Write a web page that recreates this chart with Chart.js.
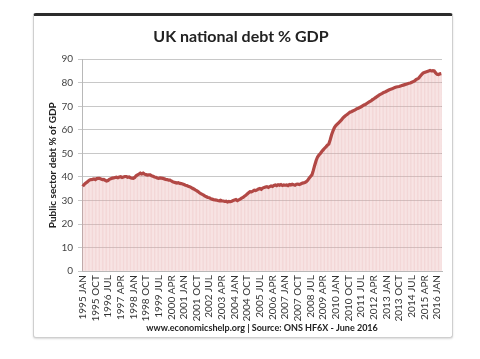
<!DOCTYPE html>
<html><head><meta charset="utf-8">
<script src="https://cdn.jsdelivr.net/npm/chart.js@4.4.1/dist/chart.umd.min.js"></script>
<style>
html,body{margin:0;padding:0;background:#fff;width:480px;height:359px;overflow:hidden;}
#card{position:absolute;left:33px;top:13px;width:418px;height:321px;border:1px solid #cfcfcf;border-top:3px solid #2b2b2b;border-radius:3px;box-shadow:0 1px 2px rgba(0,0,0,0.15);background:#fff;}
#wrap{position:absolute;left:0;top:0;width:480px;height:359px;}
</style></head><body>
<div id="card"></div>
<div id="wrap"><canvas id="c" width="480" height="359"></canvas></div>
<script>
const years = [1995,1996,1997,1998,1999,2000,2001,2002,2003,2004,2005,2006,2007,2008,2009,2010,2011,2012,2013,2014,2015,2016];
const monthNames = ['JAN','FEB','MAR','APR','MAY','JUN','JUL','AUG','SEP','OCT','NOV','DEC'];
const debt1995_2001 = [
  36.0,36.8,37.3,37.8,38.3,38.7,38.9,39.0,39.2,38.9,39.3,39.4,
  39.4,39.1,38.9,39.0,38.6,38.3,38.5,39.0,39.3,39.5,39.6,39.8,
  39.9,39.7,40.0,40.1,39.8,40.0,40.2,40.2,39.9,40.0,39.7,39.5,
  39.4,39.8,40.5,40.9,41.2,41.6,41.3,41.6,41.2,41.0,40.8,40.9,
  40.9,40.5,40.3,40.0,39.9,39.6,39.4,39.6,39.5,39.4,39.2,39.0,
  38.9,38.7,38.7,38.3,38.0,37.8,37.6,37.4,37.6,37.3,37.2,37.0,
  36.8,36.5,36.4,36.1,35.9,35.6,35.2,34.9,34.5,34.2,33.8,33.3
];
const debt2002_2008 = [
  32.9,32.6,32.3,31.9,31.6,31.3,31.2,30.8,30.6,30.4,30.3,30.2,
  30.0,29.9,30.1,29.8,29.8,29.6,29.7,29.4,29.6,29.5,29.7,30.0,
  30.2,30.4,30.0,30.3,30.6,31.0,31.3,31.8,32.2,32.8,33.3,33.8,
  33.7,34.0,34.4,34.2,34.5,34.9,35.1,34.8,35.3,35.5,35.7,35.9,
  35.6,35.9,36.2,36.0,36.4,36.6,36.3,36.7,36.5,36.8,36.4,36.6,
  36.5,36.6,36.3,36.8,36.6,36.9,36.7,36.5,36.9,37.0,36.8,37.0,
  37.3,37.5,37.7,38.0,38.6,39.5,40.2,40.9,42.8,45.0,47.0,48.5
];
const debt2009_2016 = [
  49.3,50.0,50.8,51.5,52.2,52.8,53.5,54.0,55.8,57.9,59.6,61.0,
  61.8,62.4,63.0,63.6,64.2,65.0,65.6,66.1,66.5,67.0,67.5,67.7,
  68.0,68.3,68.6,69.0,69.2,69.5,69.8,70.2,70.6,70.8,71.2,71.6,
  72.0,72.3,72.8,73.1,73.6,74.0,74.4,74.9,75.2,75.5,75.9,76.1,
  76.4,76.7,77.0,77.2,77.4,77.7,78.0,78.2,78.3,78.4,78.6,78.8,
  79.0,79.2,79.4,79.6,79.8,79.9,80.2,80.5,80.8,81.3,81.6,82.0,
  82.8,83.5,84.1,84.4,84.6,84.8,85.0,85.2,85.0,85.1,85.0,84.2,
  83.6,83.5,83.8,83.9
];
const debt = debt1995_2001.concat(debt2002_2008, debt2009_2016);
const categories = [];
for (const y of years) for (const m of monthNames) if (categories.length < debt.length) categories.push(y + ' ' + m);
const labelEvery = 9;
const yTicks = [0,10,20,30,40,50,60,70,80,90];
const titleText = 'UK national debt % GDP';
const yTitle = 'Public sector debt % of GDP';
const footerText = 'www.economicshelp.org | Source: ONS HF6X - June 2016';

const FONT = 'Lato, "Open Sans", sans-serif';
new Chart(document.getElementById('c'), {
  type: 'bar',
  data: {
    labels: categories,
    datasets: [
      { type: 'line', data: debt, borderColor: '#b24845', borderWidth: 3.2, pointRadius: 0, tension: 0,
        fill: 'origin', backgroundColor: 'rgba(240,200,200,0.25)', order: 0 },
      { type: 'bar', data: debt, backgroundColor: 'rgba(215,120,120,0.3)', borderWidth: 0,
        barPercentage: 1, categoryPercentage: 0.6, order: 1 }
    ]
  },
  options: {
    responsive: false, animation: false,
    layout: { padding: { left: 40, right: 38, top: 0, bottom: 0 } },
    plugins: {
      legend: { display: false }, tooltip: { enabled: false },
      title: { display: true, text: titleText, color: '#222', font: { family: FONT, size: 16, weight: 'bold' }, padding: { top: 27, bottom: 13 } },
      subtitle: { display: true, position: 'bottom', fullSize: false, text: footerText, color: '#222', font: { family: FONT, size: 9, weight: 'bold' }, padding: { top: 0, bottom: 26 } }
    },
    scales: {
      x: {
        grid: { display: true, color: 'rgba(0,0,0,0)', drawTicks: false },
        border: { display: true, color: '#b8b8b8' },
        ticks: { autoSkip: false, maxRotation: 90, minRotation: 90, padding: 4, color: '#333',
          font: { family: FONT, size: 10 },
          callback: function(v, i) { return i % labelEvery === 0 ? categories[i] : ''; } },
        afterFit: function(s) { s.height = 51; }
      },
      y: {
        min: 0, max: 90,
        afterBuildTicks: function(s) { s.ticks = yTicks.map(v => ({ value: v })); },
        grid: { color: '#c8c8c8', tickLength: 4 },
        border: { display: true, color: '#b8b8b8' },
        ticks: { color: '#444', padding: 5, font: { family: FONT, size: 10 } },
        title: { display: true, text: yTitle, color: '#222', font: { family: FONT, size: 10, weight: 'bold' }, padding: { top: 7, bottom: 0 } },
        afterFit: function(s) { s.width = 42; }
      }
    }
  }
});
</script>
</body></html>
